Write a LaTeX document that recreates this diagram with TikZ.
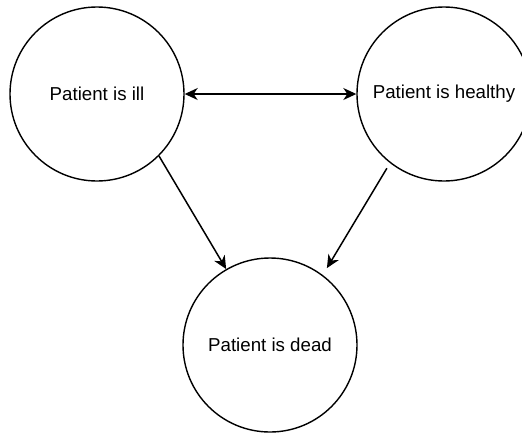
\documentclass[tikz,border=0pt]{standalone}
\usepackage{fontspec}
\setmainfont{Liberation Sans}
\usetikzlibrary{arrows.meta}
\begin{document}
\begin{tikzpicture}[x=1pt, y=-1pt,
    >={Stealth[length=13pt, width=12pt, inset=4pt]},
    state/.style={draw, circle, line width=1.4pt, minimum size=174pt,
      inner sep=0pt, font=\fontsize{18.7}{22}\selectfont},
    trans/.style={line width=1.5pt}]
  \clip (0,0) rectangle (522,432);
  \node[state] (ill) at (97,94) {Patient is ill};
  \node[state] (healthy) at (444,94) {Patient is healthy};
  \node[state] (dead) at (270,345) {Patient is dead};

  \draw[trans, <->] (ill) -- (healthy);
  \draw[trans, ->] (ill.-45) -- (dead.120);
  \draw[trans, ->, shorten <=6pt, shorten >=8pt] (healthy.232) -- (dead.53.5);
\end{tikzpicture}
\end{document}
